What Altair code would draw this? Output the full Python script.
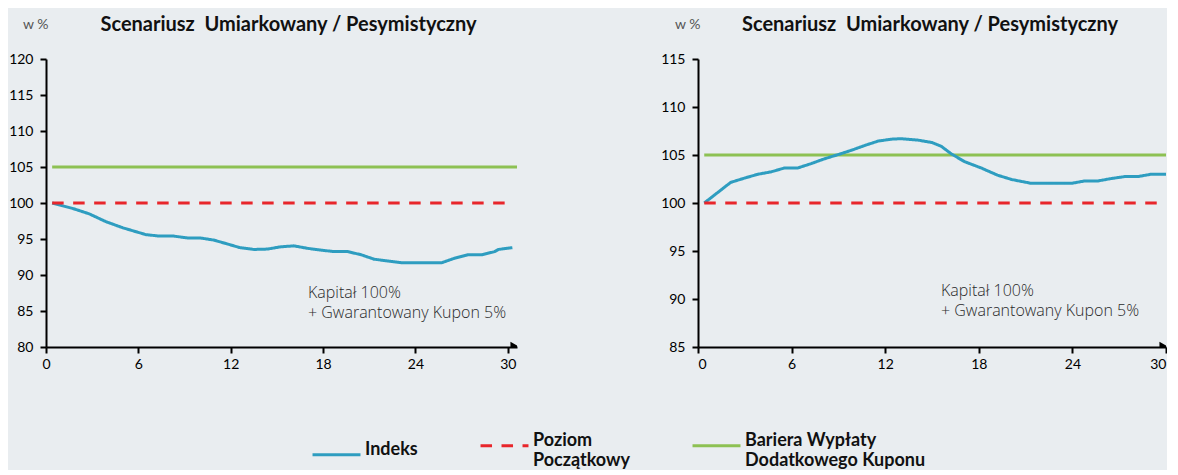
import altair as alt
import pandas as pd

SERIES = ["Indeks", "Poziom Początkowy", "Bariera Wypłaty Dodatkowego Kuponu"]
COLORS = ["#2E9DC0", "#E8262B", "#8DC153"]
DASHES = [[1, 0], [11.5, 9.5], [1, 0]]

TITLE = "Scenariusz\u00a0 Umiarkowany / Pesymistyczny"
UNIT = "w %"
NOTE = ["Kapitał 100%", "+ Gwarantowany Kupon 5%"]
X_TICKS = [0, 6, 12, 18, 24, 30]

POZIOM = 100
BARIERA = 105

# Left panel
L_MONTH = [0.4, 1.8, 2.8, 3.9, 5.0, 6.5, 7.4, 8.3, 9.2, 10.0, 10.9, 11.8, 12.6, 13.5,
           14.4, 15.2, 16.1, 17.0, 17.9, 18.7, 19.6, 20.5, 21.3, 22.2, 23.1, 24.0,
           24.8, 25.7, 26.5, 27.4, 28.3, 29.15, 29.4, 30.3]
L_INDEX = [100.0, 99.2, 98.5, 97.4, 96.55, 95.6, 95.4, 95.4, 95.15, 95.15, 94.85, 94.3,
           93.8, 93.55, 93.6, 93.9, 94.05, 93.7, 93.45, 93.25, 93.25, 92.8, 92.2, 91.95,
           91.7, 91.7, 91.7, 91.7, 92.3, 92.8, 92.8, 93.25, 93.55, 93.8]
L_LEVEL_MONTH = [0.4, 30.0]
L_BARRIER_MONTH = [0.4, 30.6]
L_Y_DOMAIN = [80, 120]
L_Y_TICKS = [80, 85, 90, 95, 100, 105, 110, 115, 120]
L_X_MAX = 30.6

# Right panel
R_MONTH = [0.4, 2.1, 3.0, 3.85, 4.7, 5.55, 6.4, 7.25, 8.1, 9.0, 9.85, 10.7, 11.55, 12.4,
           13.0, 14.1, 15.0, 15.6, 16.25, 17.1, 18.15, 19.2, 20.1, 21.35, 22.65, 23.95,
           24.8, 25.65, 26.5, 27.35, 28.2, 29.05, 30.0]
R_INDEX = [100.0, 102.15, 102.6, 103.0, 103.25, 103.65, 103.65, 104.1, 104.6, 105.05,
           105.5, 106.0, 106.45, 106.65, 106.7, 106.55, 106.3, 105.9, 105.1, 104.3,
           103.65, 102.9, 102.45, 102.05, 102.05, 102.05, 102.3, 102.3, 102.55, 102.75,
           102.75, 103.0, 103.0]
R_LEVEL_MONTH = [0.4, 30.0]
R_BARRIER_MONTH = [0.4, 30.0]
R_Y_DOMAIN = [85, 115]
R_Y_TICKS = [85, 90, 95, 100, 105, 110, 115]
R_X_MAX = 30.0

FONT = "Lato"
BG = "#E9EDF0"

legend_def = alt.Legend(
    title=None, orient="none", legendX=265, legendY=361, direction="horizontal",
    symbolType="stroke", symbolSize=2300, symbolStrokeWidth=3, labelFont=FONT,
    labelFontSize=18, labelFontWeight="bold", labelColor="#111111", labelOffset=3,
    columnPadding=56, labelLimit=300, labelBaseline="alphabetic",
    labelExpr=("datum.label == 'Poziom Początkowy' ? ['Poziom', 'Początkowy'] : "
               "datum.label == 'Bariera Wypłaty Dodatkowego Kuponu' ? "
               "['Bariera Wypłaty', 'Dodatkowego Kuponu'] : datum.label"),
)


def panel(months, index, level_m, barrier_m, ydom, yticks, xmax, width, note_xy, flush,
          title_dx):
    df_idx = pd.DataFrame({"m": months, "v": index, "s": SERIES[0]})
    df_lvl = pd.DataFrame({"m": level_m, "v": [POZIOM] * len(level_m), "s": SERIES[1]})
    df_bar = pd.DataFrame({"m": barrier_m, "v": [BARIERA] * len(barrier_m), "s": SERIES[2]})

    x = alt.X("m:Q", scale=alt.Scale(domain=[0, xmax], nice=False, zero=False),
              axis=alt.Axis(values=X_TICKS, title=None, labelFlush=flush, labelPadding=4))
    y = alt.Y("v:Q", scale=alt.Scale(domain=ydom, nice=False, zero=False),
              axis=alt.Axis(values=yticks, title=UNIT, titleAngle=0, titleAlign="right",
                            titleBaseline="middle", titleX=2, titleY=-35,
                            titleFont=FONT, titleFontSize=14, titleFontWeight="normal",
                            titleColor="#555555", labelPadding=7))
    color = alt.Color("s:N", scale=alt.Scale(domain=SERIES, range=COLORS), legend=legend_def)
    dash = alt.StrokeDash("s:N", scale=alt.Scale(domain=SERIES, range=DASHES), legend=legend_def)

    def line(df):
        return alt.Chart(df).mark_line(strokeWidth=3, clip=True).encode(
            x=x, y=y, color=color, strokeDash=dash)

    arrow = alt.Chart(pd.DataFrame({"a": [0]})).mark_point(
        shape="triangle-right", filled=True, color="#000000", size=110, opacity=1, clip=True
    ).encode(x=alt.value(width - 2), y=alt.value(288))

    note = alt.Chart(pd.DataFrame({"a": [0]})).mark_text(
        text=NOTE, align="left", baseline="alphabetic", font="Open Sans", fontSize=16,
        fontWeight=300, color="#2a2a2a", lineHeight=20
    ).encode(x=alt.value(note_xy[0]), y=alt.value(note_xy[1]))

    return alt.layer(line(df_bar), line(df_idx), line(df_lvl), arrow, note).properties(
        width=width, height=288,
        title=alt.TitleParams(TITLE, anchor="middle", font=FONT, fontSize=20,
                              fontWeight="bold", color="#111111", offset=-18, dx=title_dx),
    )


left = panel(L_MONTH, L_INDEX, L_LEVEL_MONTH, L_BARRIER_MONTH, L_Y_DOMAIN, L_Y_TICKS,
             L_X_MAX, 471, (262, 239), False, 7)
right = panel(R_MONTH, R_INDEX, R_LEVEL_MONTH, R_BARRIER_MONTH, R_Y_DOMAIN, R_Y_TICKS,
              R_X_MAX, 468, (243, 237), True, -2)

chart = alt.hconcat(left, right, spacing=143).properties(
    padding={"left": 0, "top": 7, "right": 0, "bottom": 0},
    background=BG,
).configure_view(stroke=None).configure_axis(
    domainColor="#000000", domainWidth=2, tickColor="#000000", tickWidth=2, tickSize=6,
    labelFont=FONT, labelFontSize=14, labelColor="#000000", grid=False,
)

chart.save("out.html", embed_options={"renderer": "svg", "actions": False})
